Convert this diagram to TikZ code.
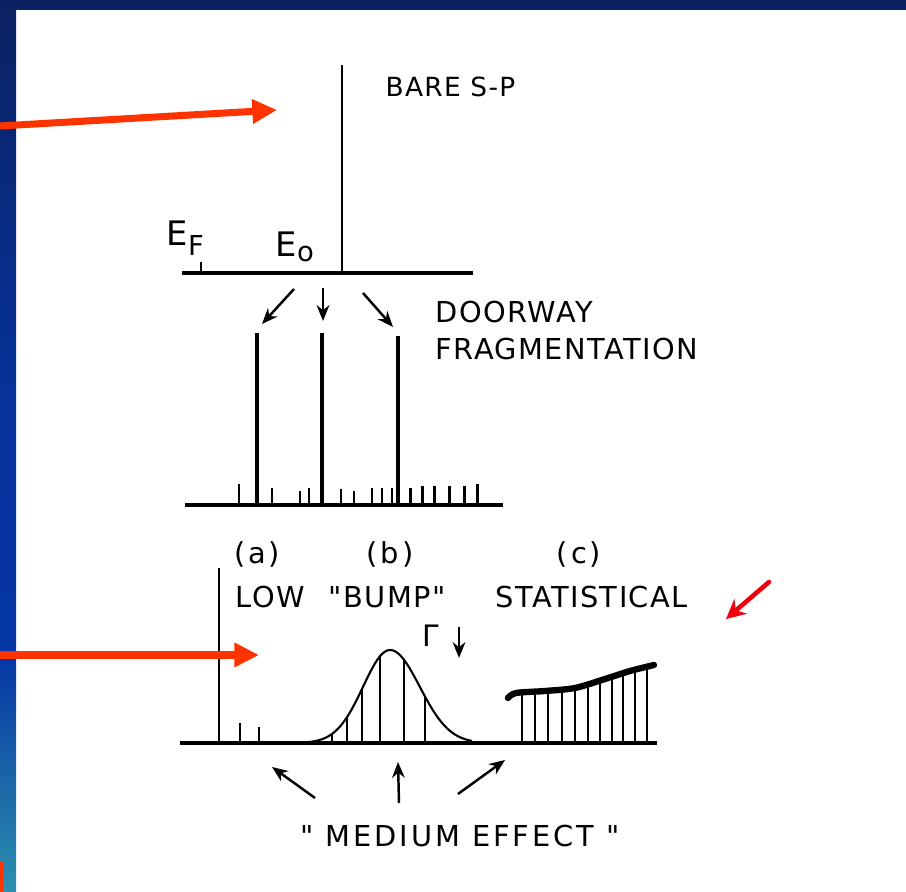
\documentclass[tikz,border=0pt]{standalone}
\usepackage{fontspec}
\usetikzlibrary{arrows.meta}

\newfontfamily\lett[LetterSpace=5]{DejaVu Sans}
\newfontfamily\lettwide[LetterSpace=10]{DejaVu Sans}
\newfontfamily\plainsans{DejaVu Sans}

\definecolor{slidenavy}{HTML}{0B2262}
\definecolor{slideblue}{HTML}{0535A5}
\definecolor{slidemid}{HTML}{1F6EA8}
\definecolor{slideteal}{HTML}{2A90B0}
\definecolor{pointer}{HTML}{FF3300}
\definecolor{pen}{HTML}{EE0010}

% the path fills 25bp..75bp of the shading
\pgfdeclareverticalshading{slidestrip}{100bp}{%
  color(0bp)=(slideteal); color(25bp)=(slideteal); color(30bp)=(slidemid);
  color(38.5bp)=(slideblue); color(52.5bp)=(slideblue!85!slidenavy);
  color(75bp)=(slidenavy); color(100bp)=(slidenavy)}

\tikzset{
  axis/.style={line width=1pt},
  peak/.style={line width=1.15pt},
  tick/.style={line width=0.85pt},
  spec/.style={line width=0.6pt},
  envelope/.style={line width=1.8pt,line cap=round},
  flow/.style={line width=0.7pt,-{Stealth[length=4.5pt,width=3.6pt]}},
  pointerarrow/.style={pointer,line width=2pt,-{Triangle[length=7pt,width=6.6pt]}},
  label/.style={anchor=base west,inner sep=0pt}
}

\begin{document}
\begin{tikzpicture}[x=0.01cm,y=-0.01cm,font=\lett\fontsize{8.2}{10}\selectfont]
\useasboundingbox (0,0) rectangle (906,892);

% ---- slide frame ----
\fill[slidenavy] (0,0) rectangle (906,10);
\shade[shading=slidestrip] (0,0) rectangle (16,892);
\fill[pointer] (0,861) rectangle (3,892);

% ---- bare single-particle state ----
\def\yA{273}
\draw[axis] (182,\yA) -- (473,\yA);
\draw[line width=0.85pt] (342,65) -- (342,\yA);
\draw[tick] (201,\yA) -- (201,262);
\node[label,font=\lett\fontsize{7.5}{9}\selectfont] (bare) at (385,97) {BARE S-P};
\node[label,font=\plainsans\fontsize{9.6}{11}\selectfont] (EF) at (166,246)
  {E\raisebox{-2.6pt}{\fontsize{7.8}{9}\selectfont F}};
\node[label,font=\plainsans\fontsize{9.6}{11}\selectfont] (Eo) at (275,257)
  {E\raisebox{-1.4pt}{\fontsize{7.8}{9}\selectfont o}};

% ---- arrows down to the doorways ----
\coordinate (dL0) at (294,289); \coordinate (dL1) at (262,324);
\coordinate (dM0) at (323,288); \coordinate (dM1) at (323,321);
\coordinate (dR0) at (363,293); \coordinate (dR1) at (393,327);
\draw[flow] (dL0) -- (dL1);
\draw[flow] (dM0) -- (dM1);
\draw[flow] (dR0) -- (dR1);
\node[label] (doorway) at (435,323) {DOORWAY};
\node[label] (frag) at (435,360) {FRAGMENTATION};

% ---- doorway fragmentation spectrum ----
\def\yB{505}
\draw[axis] (185,\yB) -- (503,\yB);
\foreach \x/\h in {257/333,322/333,398/336}
  \draw[peak] (\x,\yB) -- (\x,\h);
\foreach \x/\h in {239/484,272/488,300/491,309/488,341/489,354/491,372/488,382/488,
                   392/488,410/488,422/486,434/486,449/486,464/486,477/484}
  \draw[tick] (\x,\yB) -- (\x,\h);

% ---- three cases ----
\node[anchor=center,inner sep=0pt,font=\lettwide\fontsize{8.2}{10}\selectfont] (ca) at (257,554) {(a)};
\node[anchor=center,inner sep=0pt,font=\lettwide\fontsize{8.2}{10}\selectfont] (cb) at (390,554) {(b)};
\node[anchor=center,inner sep=0pt,font=\lettwide\fontsize{8.2}{10}\selectfont] (cc) at (579,554) {(c)};
\node[label] (low) at (235,608) {LOW};
\node[label] (bump) at (328,608) {"BUMP"};
\node[label] (stat) at (495,608) {STATISTICAL};

\def\yC{743}
\draw[axis] (180,\yC) -- (657,\yC);
\draw[line width=0.85pt] (219,568) -- (219,\yC);
\draw[spec] (240,\yC) -- (240,723);
\draw[spec] (259,\yC) -- (259,727);

% bump
\draw[spec] plot[domain=300:472,samples=70]
  (\x,{\yC-93*exp(-(\x-390)*(\x-390)/(((\x<390)?38:42)^2))});
\foreach \x in {332,347,362,380,404,425}{
  \pgfmathsetmacro\sig{(\x<390)?38:42}
  \draw[spec] (\x,\yC) -- (\x,{\yC-93*exp(-(\x-390)*(\x-390)/(\sig*\sig))});
}
\node[label,font=\plainsans\fontsize{8.4}{9}\selectfont] (gam) at (422,647) {Γ};
\coordinate (g0) at (459,627); \coordinate (g1) at (459,658);
\draw[flow] (g0) -- (g1);

% statistical
\foreach \x in {522,535,548,562,575,588,600,612,623,635,647}{
  \pgfmathsetmacro\ytop{(\x<575)?(692-(\x-520)*4/55):(688-(\x-575)*24/79)}
  \draw[spec] (\x,\yC) -- (\x,\ytop);
}
\draw[envelope] plot[smooth] coordinates
  {(508,698) (516,693) (545,691) (575,688) (605,679) (630,671) (654,665)};

% ---- medium effect ----
\coordinate (mL0) at (315,798); \coordinate (mL1) at (272,767);
\coordinate (mM0) at (399,803); \coordinate (mM1) at (398,762);
\coordinate (mR0) at (458,794); \coordinate (mR1) at (505,760);
\draw[flow] (mL0) -- (mL1);
\draw[flow] (mM0) -- (mM1);
\draw[flow] (mR0) -- (mR1);
\node[label,font=\lettwide\fontsize{8.2}{10}\selectfont] (medium) at (300,847) {" MEDIUM EFFECT "};

% ---- slide pointers ----
\coordinate (pA0) at (0,126); \coordinate (pA1) at (277,110);
\coordinate (pB0) at (0,655); \coordinate (pB1) at (259,655);
\draw[pointerarrow] (pA0) -- (pA1);
\draw[pointerarrow] (pB0) -- (pB1);
\coordinate (hand0) at (769,582); \coordinate (hand1) at (726,619);
\draw[pen,line width=1.3pt,line cap=round,-{Stealth[length=5.5pt,width=5.5pt]}] (hand0) -- (hand1);

\end{tikzpicture}
\end{document}
